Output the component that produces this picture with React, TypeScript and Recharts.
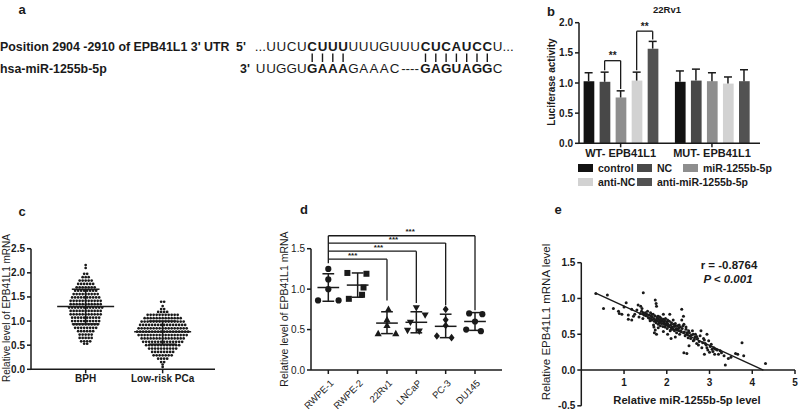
import React from 'react';
import {
  BarChart,
  Bar,
  Cell,
  XAxis,
  YAxis,
  ReferenceLine,
  ReferenceDot,
  ScatterChart,
  Scatter,
} from 'recharts';

const FONT = '"Liberation Sans", Arial, sans-serif';
const INK = '#1a1a1a';

// ---------- panel a: binding site ----------
const utrLabel = "Position 2904 -2910 of EPB41L1 3' UTR";
const mirLabel = 'hsa-miR-1255b-5p';
const utrLetters = 'UUCUCUUUUUUGUUUCUCAUCCU';
const mirLeft = 'UUGGUGAAAGAAAC'; // starts at slot -1
const mirRight = 'GAGUAGGC'; // starts at slot 15
const pairedSlots = [4, 5, 6, 7, 15, 16, 17, 18, 19, 20, 21];

// ---------- panel b: luciferase ----------
const treatments = ['control', 'NC', 'miR-1255b-5p', 'anti-NC', 'anti-miR-1255b-5p'];
const treatmentColors = ['#121212', '#484848', '#8e8e8e', '#d2d2d2', '#525252'];
const reporterGroups = ['WT- EPB41L1', 'MUT- EPB41L1'];
const groupStart = [0, 5.7];
const wtMeans = [1.03, 1.02, 0.76, 1.04, 1.57];
const wtErrors = [0.14, 0.16, 0.11, 0.14, 0.12];
const mutMeans = [1.02, 1.04, 1.03, 0.99, 1.03];
const mutErrors = [0.18, 0.19, 0.14, 0.11, 0.19];
const luciferaseTicks = [0, 0.5, 1, 1.5, 2];
const luciferaseBrackets = [
  { a: 1, b: 2, top: 1.37, footA: 1.21, footB: 0.9, label: '**' },
  { a: 3, b: 4, top: 1.86, footA: 1.21, footB: 1.72, label: '**' },
];

// ---------- panel c: tissue levels ----------
const tissueGroups = ['BPH', 'Low-risk PCa'];
const tissueTicks = [0, 0.5, 1, 1.5, 2, 2.5];
const bphValues = [
  2.16,
  2.1,
  1.98, 1.98,
  1.91, 1.91, 1.91,
  1.84, 1.84, 1.84, 1.84, 1.84,
  1.77, 1.77, 1.77, 1.77, 1.77, 1.77,
  1.7, 1.7, 1.7, 1.7, 1.7, 1.7, 1.7,
  1.63, 1.63, 1.63, 1.63, 1.63, 1.63, 1.63, 1.63,
  1.56, 1.56, 1.56, 1.56, 1.56, 1.56, 1.56, 1.56, 1.56,
  1.49, 1.49, 1.49, 1.49, 1.49, 1.49, 1.49, 1.49, 1.49, 1.49,
  1.42, 1.42, 1.42, 1.42, 1.42, 1.42, 1.42, 1.42, 1.42, 1.42, 1.42,
  1.35, 1.35, 1.35, 1.35, 1.35, 1.35, 1.35, 1.35, 1.35, 1.35, 1.35,
  1.28, 1.28, 1.28, 1.28, 1.28, 1.28, 1.28, 1.28, 1.28, 1.28, 1.28, 1.28,
  1.21, 1.21, 1.21, 1.21, 1.21, 1.21, 1.21, 1.21, 1.21, 1.21, 1.21,
  1.14, 1.14, 1.14, 1.14, 1.14, 1.14, 1.14, 1.14, 1.14, 1.14, 1.14,
  1.07, 1.07, 1.07, 1.07, 1.07, 1.07, 1.07, 1.07, 1.07, 1.07,
  1.0, 1.0, 1.0, 1.0, 1.0, 1.0, 1.0, 1.0, 1.0, 1.0,
  0.93, 0.93, 0.93, 0.93, 0.93, 0.93, 0.93, 0.93, 0.93,
  0.86, 0.86, 0.86, 0.86, 0.86, 0.86, 0.86, 0.86,
  0.79, 0.79, 0.79, 0.79, 0.79, 0.79,
  0.72, 0.72, 0.72, 0.72, 0.72,
  0.65, 0.65, 0.65, 0.65, 0.65,
  0.58, 0.58, 0.58, 0.58,
  0.53, 0.53,
];
const lowRiskValues = [
  1.4, 1.4,
  1.31,
  1.25, 1.25,
  1.19, 1.19, 1.19, 1.19,
  1.13, 1.13, 1.13, 1.13, 1.13, 1.13, 1.13, 1.13, 1.13, 1.13, 1.13,
  1.06, 1.06, 1.06, 1.06, 1.06, 1.06, 1.06, 1.06, 1.06, 1.06, 1.06, 1.06, 1.06,
  0.99, 0.99, 0.99, 0.99, 0.99, 0.99, 0.99, 0.99, 0.99, 0.99, 0.99, 0.99, 0.99, 0.99, 0.99,
  0.92, 0.92, 0.92, 0.92, 0.92, 0.92, 0.92, 0.92, 0.92, 0.92, 0.92, 0.92, 0.92, 0.92, 0.92, 0.92,
  0.85, 0.85, 0.85, 0.85, 0.85, 0.85, 0.85, 0.85, 0.85, 0.85, 0.85, 0.85, 0.85, 0.85, 0.85, 0.85, 0.85,
  0.78, 0.78, 0.78, 0.78, 0.78, 0.78, 0.78, 0.78, 0.78, 0.78, 0.78, 0.78, 0.78, 0.78, 0.78, 0.78, 0.78, 0.78,
  0.71, 0.71, 0.71, 0.71, 0.71, 0.71, 0.71, 0.71, 0.71, 0.71, 0.71, 0.71, 0.71, 0.71, 0.71, 0.71, 0.71,
  0.64, 0.64, 0.64, 0.64, 0.64, 0.64, 0.64, 0.64, 0.64, 0.64, 0.64, 0.64, 0.64, 0.64, 0.64,
  0.57, 0.57, 0.57, 0.57, 0.57, 0.57, 0.57, 0.57, 0.57, 0.57, 0.57, 0.57, 0.57, 0.57,
  0.5, 0.5, 0.5, 0.5, 0.5, 0.5, 0.5, 0.5, 0.5, 0.5, 0.5, 0.5,
  0.43, 0.43, 0.43, 0.43, 0.43, 0.43, 0.43, 0.43, 0.43, 0.43,
  0.36, 0.36, 0.36, 0.36, 0.36, 0.36, 0.36, 0.36,
  0.29, 0.29, 0.29, 0.29, 0.29, 0.29, 0.29,
  0.22, 0.22, 0.22, 0.22,
  0.15, 0.15,
  0.1,
  0.05,
];
const tissueStats = [
  { x: 1, mean: 1.3, lo: 0.94, hi: 1.66 },
  { x: 2, mean: 0.78, lo: 0.52, hi: 1.0 },
];

// ---------- panel d: cell lines ----------
const cellLines = ['RWPE-1', 'RWPE-2', '22Rv1', 'LNCaP', 'PC-3', 'DU145'];
const cellTicks = [0, 0.5, 1, 1.5];
const cellValues = [
  [1.25, 1.12, 1.0, 0.86, 0.86],
  [1.2, 1.19, 1.02, 0.93, 0.88],
  [0.75, 0.62, 0.55, 0.45, 0.45],
  [0.77, 0.68, 0.59, 0.49, 0.48],
  [0.75, 0.62, 0.55, 0.42, 0.4],
  [0.7, 0.69, 0.6, 0.5, 0.48],
];
const cellOffsets = [
  [0, 0, 0, -0.35, 0.35],
  [-0.35, 0.3, 0.2, 0.15, -0.3],
  [0.05, 0, 0, -0.3, 0.3],
  [0, 0.3, -0.2, -0.3, 0.1],
  [0, 0, 0, -0.3, 0.2],
  [-0.2, 0.25, 0, -0.3, 0.2],
];
const cellMeans = [1.02, 1.05, 0.58, 0.59, 0.54, 0.6];
const cellSdLo = [0.85, 0.9, 0.45, 0.46, 0.4, 0.49];
const cellSdHi = [1.19, 1.2, 0.72, 0.72, 0.69, 0.71];
const cellMarkers = ['circle', 'square', 'triangle', 'triangleDown', 'diamond', 'circle'];
const cellBracketTargets = [3, 4, 5, 6];
const cellBracketTops = [1.37, 1.47, 1.57, 1.66];
const cellBracketFeet = [0.86, 0.83, 0.8, 0.74];
const cellStarX = [1.83, 2.71, 3.22, 3.79];

// ---------- panel e: correlation ----------
const corrXTicks = [1, 2, 3, 4, 5];
const corrYTicks = [-0.5, 0, 0.5, 1, 1.5];
const corrFit = [
  { x: 0.35, y: 1.07 },
  { x: 4.26, y: 0 },
];
const corrPoints = [
  [0.34, 1.07], [0.61, 1.05], [0.52, 0.86], [0.75, 0.86], [0.87, 0.82], [0.89, 0.79],
  [1.05, 0.94], [1.1, 0.71], [1.18, 0.7], [1.22, 0.75], [1.18, 0.85], [1.33, 0.91],
  [1.39, 0.89], [1.45, 1.08], [1.41, 0.82], [1.45, 0.8], [1.53, 0.78], [1.57, 0.73],
  [1.61, 0.69], [1.69, 0.63], [1.73, 0.98], [1.75, 0.93], [1.76, 0.89], [1.73, 0.56],
  [1.71, 0.52], [1.65, 0.78], [1.8, 0.75], [1.84, 0.7], [1.88, 0.69], [1.82, 0.66],
  [1.92, 0.78], [1.96, 0.64], [2.0, 0.67], [2.04, 0.62], [2.02, 0.5], [2.07, 0.78],
  [2.1, 0.57], [2.16, 0.64], [2.2, 0.62], [2.24, 0.57], [2.28, 0.59], [2.32, 0.55],
  [2.35, 0.85], [2.39, 0.75], [2.4, 0.64], [2.45, 0.57], [2.47, 0.52], [2.51, 0.55],
  [2.55, 0.48], [2.62, 0.5], [2.66, 0.46], [2.7, 0.47], [2.62, 0.41], [2.47, 0.23],
  [2.7, 0.37], [2.74, 0.35], [2.8, 0.55], [2.82, 0.31], [2.86, 0.44], [2.9, 0.37],
  [2.94, 0.5], [2.98, 0.41], [2.94, 0.31], [2.88, 0.22], [3.02, 0.33], [3.06, 0.29],
  [3.1, 0.31], [3.14, 0.29], [3.21, 0.22], [3.25, 0.27], [3.34, 0.2], [3.44, 0.16],
  [3.37, 0.07], [3.61, 0.23], [3.76, 0.38], [3.8, 0.2], [4.31, 0.09],
  [1.5, 0.8], [1.52, 0.76], [1.55, 0.82], [1.58, 0.77], [1.6, 0.72], [1.62, 0.8],
  [1.63, 0.75], [1.65, 0.7], [1.66, 0.74], [1.68, 0.78], [1.7, 0.72], [1.71, 0.68],
  [1.72, 0.76], [1.74, 0.7], [1.75, 0.66], [1.77, 0.73], [1.78, 0.69], [1.79, 0.75],
  [1.8, 0.64], [1.81, 0.71], [1.83, 0.67], [1.84, 0.74], [1.85, 0.62], [1.86, 0.69],
  [1.87, 0.72], [1.88, 0.65], [1.9, 0.68], [1.91, 0.61], [1.92, 0.71], [1.93, 0.66],
  [1.95, 0.69], [1.96, 0.6], [1.97, 0.72], [1.98, 0.63], [2.0, 0.66], [2.01, 0.58],
  [2.02, 0.7], [2.03, 0.64], [2.05, 0.61], [2.06, 0.68], [2.08, 0.55], [2.09, 0.63],
  [2.11, 0.66], [2.12, 0.6], [2.14, 0.57], [2.15, 0.7], [2.17, 0.61], [2.18, 0.55],
  [2.2, 0.65], [2.22, 0.58], [2.23, 0.52], [2.25, 0.62], [2.27, 0.56], [2.29, 0.63],
  [2.3, 0.5], [2.32, 0.6], [2.34, 0.54], [2.36, 0.58], [2.38, 0.62], [2.41, 0.53],
  [2.43, 0.48], [2.45, 0.6], [2.48, 0.5], [2.5, 0.45], [2.53, 0.52], [2.56, 0.44],
  [2.58, 0.49], [2.6, 0.55], [2.64, 0.42], [2.67, 0.5], [2.72, 0.44], [2.76, 0.4],
  [2.78, 0.48], [2.84, 0.38], [2.88, 0.42], [2.92, 0.35], [2.96, 0.28], [3.0, 0.25],
  [3.04, 0.36], [3.08, 0.26], [3.12, 0.22], [3.18, 0.28], [3.28, 0.24], [3.5, 0.18],
  [3.66, 0.22], [1.25, 0.78], [1.3, 0.84], [1.35, 0.74], [1.38, 0.79], [1.42, 0.86],
  [1.44, 0.72], [1.47, 0.77], [1.0, 0.88], [0.95, 0.78], [1.1, 0.77], [2.4, 0.24],
  [2.1, 0.44], [1.76, 0.5], [1.8, 0.59], [1.7, 0.6], [2.2, 0.46], [2.52, 0.34],
  [2.35, 0.7], [1.92, 0.54],
];

// ---------- helpers ----------
const boldTick = (size: number) => ({ fontFamily: FONT, fontSize: size, fontWeight: 700, fill: INK });
const plainTick = (size: number) => ({ fontFamily: FONT, fontSize: size, fill: INK });
const axisStroke = { stroke: INK, strokeWidth: 1.5 };

// lay values of one column out as a bee swarm: equal values share a row
const swarm = (values: number[], center: number, step: number) => {
  const counts = new Map<number, number>();
  values.forEach((v) => counts.set(v, (counts.get(v) ?? 0) + 1));
  const seen = new Map<number, number>();
  return values.map((v) => {
    const n = counts.get(v) as number;
    const k = seen.get(v) ?? 0;
    seen.set(v, k + 1);
    return { x: center + (k - (n - 1) / 2) * step, y: v };
  });
};

const seg = (x1: number, y1: number, x2: number, y2: number, key: string, width = 1.3) => (
  <ReferenceLine
    key={key}
    segment={[
      { x: x1, y: y1 },
      { x: x2, y: y2 },
    ]}
    stroke={INK}
    strokeWidth={width}
    ifOverflow="visible"
  />
);

const textDot = (
  x: number,
  y: number,
  text: string,
  key: string,
  opts: { size?: number; dx?: number; dy?: number; anchor?: string; weight?: number } = {}
) => (
  <ReferenceDot
    key={key}
    x={x}
    y={y}
    r={0}
    ifOverflow="visible"
    shape={(p: any) => (
      <text
        x={p.cx + (opts.dx ?? 0)}
        y={p.cy + (opts.dy ?? -1.5)}
        textAnchor={opts.anchor ?? 'middle'}
        fontFamily={FONT}
        fontSize={opts.size ?? 9}
        fontWeight={opts.weight ?? 700}
        fill={INK}
      >
        {text}
      </text>
    )}
  />
);

const smallDot = (r: number) => (p: any) => <circle cx={p.cx} cy={p.cy} r={r} fill={INK} />;

const markerShape = (kind: string) => (p: any) => {
  const { cx, cy } = p;
  if (kind === 'square') return <rect x={cx - 3} y={cy - 3} width={6} height={6} fill={INK} />;
  if (kind === 'triangle')
    return <polygon points={`${cx},${cy - 3.8} ${cx - 3.6},${cy + 2.6} ${cx + 3.6},${cy + 2.6}`} fill={INK} />;
  if (kind === 'triangleDown')
    return <polygon points={`${cx},${cy + 3.8} ${cx - 3.6},${cy - 2.6} ${cx + 3.6},${cy - 2.6}`} fill={INK} />;
  if (kind === 'diamond')
    return <polygon points={`${cx},${cy - 3.8} ${cx + 3},${cy} ${cx},${cy + 3.8} ${cx - 3},${cy}`} fill={INK} />;
  return <circle cx={cx} cy={cy} r={3.1} fill={INK} />;
};

const RotatedTick = (props: any) => {
  const { x, y, payload } = props;
  return (
    <g transform={`translate(${x + 3},${y + 5})`}>
      <text transform="rotate(-45)" textAnchor="end" dy={4} fontFamily={FONT} fontSize={9.5} fill={INK}>
        {cellLines[payload.value - 1]}
      </text>
    </g>
  );
};

// ---------- panels ----------
const barRows = [wtMeans, mutMeans].flatMap((means, g) =>
  means.map((v, i) => ({
    x: groupStart[g] + i,
    v,
    e: (g === 0 ? wtErrors : mutErrors)[i],
    color: treatmentColors[i],
  }))
);

const LuciferasePanel = () => (
  <BarChart width={270} height={200} data={barRows} margin={{ top: 22.7, right: 40, bottom: 36.7, left: 0 }}>
    <XAxis
      type="number"
      dataKey="x"
      domain={[-0.6, 10.7]}
      allowDataOverflow
      ticks={groupStart.map((s) => s + 2)}
      interval={0}
      tickFormatter={(v: number) => reporterGroups[groupStart.findIndex((s) => Math.abs(s + 2 - v) < 0.01)]}
      tick={boldTick(11)}
      tickSize={4}
      axisLine={axisStroke}
      tickLine={axisStroke}
      height={20}
    />
    <YAxis
      type="number"
      domain={[0, 2]}
      ticks={luciferaseTicks}
      interval={0}
      tickFormatter={(v: number) => v.toFixed(1)}
      tick={boldTick(10)}
      tickSize={4}
      axisLine={axisStroke}
      tickLine={axisStroke}
      width={49}
    />
    <Bar dataKey="v" barSize={10.7} isAnimationActive={false}>
      {barRows.map((r, i) => (
        <Cell key={i} fill={r.color} />
      ))}
    </Bar>
    {barRows.map((r, i) => seg(r.x, r.v, r.x, r.v + r.e, `w${i}`, 1.5))}
    {barRows.map((r, i) => seg(r.x - 0.25, r.v + r.e, r.x + 0.25, r.v + r.e, `c${i}`, 1.5))}
    {luciferaseBrackets.flatMap((br, i) => [
      seg(br.a, br.footA, br.a, br.top, `ba${i}`),
      seg(br.a, br.top, br.b, br.top, `bt${i}`),
      seg(br.b, br.top, br.b, br.footB, `bb${i}`),
      textDot((br.a + br.b) / 2, br.top, br.label, `bs${i}`, { size: 10 }),
    ])}
  </BarChart>
);

const tissuePoints = [...swarm(bphValues, 1, 0.039), ...swarm(lowRiskValues, 2, 0.039)];

const TissuePanel = () => (
  <ScatterChart width={230} height={229} margin={{ top: 58.7, right: 15, bottom: 29.7, left: 0 }}>
    <XAxis
      type="number"
      dataKey="x"
      domain={[0.29, 2.68]}
      allowDataOverflow
      ticks={[1, 2]}
      interval={0}
      tickFormatter={(v: number) => tissueGroups[v - 1]}
      tick={boldTick(10)}
      tickSize={4}
      axisLine={axisStroke}
      tickLine={axisStroke}
      height={20}
    />
    <YAxis
      type="number"
      dataKey="y"
      domain={[0, 2.5]}
      allowDataOverflow
      ticks={tissueTicks}
      interval={0}
      tickFormatter={(v: number) => v.toFixed(1)}
      tick={boldTick(10)}
      tickSize={4}
      axisLine={axisStroke}
      tickLine={axisStroke}
      width={31}
    />
    <Scatter data={tissuePoints} shape={smallDot(1.35)} isAnimationActive={false} />
    {tissueStats.flatMap((s, i) => [
      seg(s.x - 0.37, s.mean, s.x + 0.37, s.mean, `m${i}`, 1.5),
      seg(s.x - 0.18, s.lo, s.x + 0.18, s.lo, `l${i}`, 1.5),
      seg(s.x - 0.18, s.hi, s.x + 0.18, s.hi, `h${i}`, 1.5),
      seg(s.x, s.lo, s.x, s.hi, `v${i}`, 1.5),
    ])}
  </ScatterChart>
);

const CellLinePanel = () => (
  <ScatterChart width={240} height={229} margin={{ top: 58.7, right: 8, bottom: 4, left: 0 }}>
    <XAxis
      type="number"
      dataKey="x"
      domain={[0.41, 6.92]}
      allowDataOverflow
      ticks={[1, 2, 3, 4, 5, 6]}
      interval={0}
      tick={<RotatedTick />}
      tickSize={4}
      axisLine={axisStroke}
      tickLine={axisStroke}
      height={45}
    />
    <YAxis
      type="number"
      dataKey="y"
      domain={[0, 1.5]}
      allowDataOverflow
      ticks={cellTicks}
      interval={0}
      tickFormatter={(v: number) => v.toFixed(1)}
      tick={plainTick(10)}
      tickSize={4}
      axisLine={axisStroke}
      tickLine={axisStroke}
      width={41}
    />
    {cellValues.map((vals, g) => (
      <Scatter
        key={cellLines[g]}
        data={vals.map((v, i) => ({ x: g + 1 + cellOffsets[g][i], y: v }))}
        shape={markerShape(cellMarkers[g])}
        isAnimationActive={false}
      />
    ))}
    {cellMeans.flatMap((m, g) => [
      seg(g + 1 - 0.37, m, g + 1 + 0.37, m, `dm${g}`, 1.5),
      seg(g + 1 - 0.2, cellSdLo[g], g + 1 + 0.2, cellSdLo[g], `dl${g}`, 1.5),
      seg(g + 1 - 0.2, cellSdHi[g], g + 1 + 0.2, cellSdHi[g], `dh${g}`, 1.5),
      seg(g + 1, cellSdLo[g], g + 1, cellSdHi[g], `dv${g}`, 1.5),
    ])}
    {seg(1, 1.32, 1, cellBracketTops[cellBracketTops.length - 1], 'dstem')}
    {cellBracketTargets.flatMap((t, i) => [
      seg(1, cellBracketTops[i], t, cellBracketTops[i], `dt${i}`),
      seg(t, cellBracketTops[i], t, cellBracketFeet[i], `df${i}`),
      textDot(cellStarX[i], cellBracketTops[i], '***', `ds${i}`, { size: 8 }),
    ])}
  </ScatterChart>
);

const CorrelationPanel = () => (
  <ScatterChart width={260} height={229} margin={{ top: 72.7, right: 5, bottom: 13.2, left: 0 }}>
    <XAxis type="number" dataKey="x" domain={[0, 5]} allowDataOverflow hide />
    <YAxis
      type="number"
      dataKey="y"
      domain={[-0.5, 1.5]}
      allowDataOverflow
      ticks={corrYTicks}
      interval={0}
      tickFormatter={(v: number) => v.toFixed(1)}
      tick={boldTick(10)}
      tickSize={4}
      axisLine={axisStroke}
      tickLine={axisStroke}
      width={41.3}
    />
    <ReferenceLine y={0} stroke={INK} strokeWidth={1.5} />
    {corrXTicks.map((t) => seg(t, 0, t, -0.055, `xt${t}`, 1.5))}
    {corrXTicks.map((t) => textDot(t, 0, String(t), `xl${t}`, { size: 10, dy: 16 }))}
    <Scatter data={corrPoints.map(([x, y]) => ({ x, y }))} shape={smallDot(1.5)} isAnimationActive={false} />
    {seg(corrFit[0].x, corrFit[0].y, corrFit[1].x, corrFit[1].y, 'fit', 1.4)}
  </ScatterChart>
);

// ---------- static text ----------
const slotX = (i: number) => 271 + i * 10.3;
const inRange = (i: number) => (i >= 4 && i <= 7) || (i >= 15 && i <= 21);

const Letter = ({ ch, x, y, bold }: { ch: string; x: number; y: number; bold: boolean }) => (
  <text x={x} y={y} textAnchor="middle" fontFamily={FONT} fontSize={13.4} fontWeight={bold ? 700 : 400} fill={INK}>
    {ch}
  </text>
);

const vText = (x: number, y: number, text: string, size: number, weight = 400) => (
  <text
    transform={`translate(${x},${y}) rotate(-90)`}
    textAnchor="middle"
    dominantBaseline="central"
    fontFamily={FONT}
    fontSize={size}
    fontWeight={weight}
    fill={INK}
  >
    {text}
  </text>
);

const legendCols = [578, 637, 683];
const legendRows = [168, 182];

const Overlay = () => {
  const y1 = 50.5;
  const y2 = 72.5;
  return (
    <svg width={800} height={419} style={{ position: 'absolute', left: 0, top: 0, pointerEvents: 'none' }}>
      {[
        ['a', 22, 14],
        ['b', 551, 16],
        ['c', 22, 216],
        ['d', 304, 214],
        ['e', 558, 214],
      ].map(([t, x, y]) => (
        <text key={t as string} x={x as number} y={y as number} textAnchor="middle" fontFamily={FONT} fontSize={13} fontWeight={700} fill={INK}>
          {t}
        </text>
      ))}

      {/* panel a */}
      <text x={0} y={y1} fontFamily={FONT} fontSize={12.4} fontWeight={700} fill={INK}>
        {utrLabel}
      </text>
      <text x={236} y={y1} fontFamily={FONT} fontSize={12.4} fontWeight={700} fill={INK}>
        5'
      </text>
      <text x={slotX(0) - 5} y={y1} textAnchor="end" fontFamily={FONT} fontSize={13.4} fill={INK}>
        ...
      </text>
      {utrLetters.split('').map((ch, i) => (
        <Letter key={`u${i}`} ch={ch} x={slotX(i)} y={y1} bold={inRange(i)} />
      ))}
      <text x={slotX(utrLetters.length - 1) + 5} y={y1} fontFamily={FONT} fontSize={13.4} fill={INK}>
        ...
      </text>
      {pairedSlots.map((i) => (
        <line key={`p${i}`} x1={slotX(i)} x2={slotX(i)} y1={y1 + 3} y2={y1 + 11.5} stroke={INK} strokeWidth={1.4} />
      ))}
      <text x={0} y={y2} fontFamily={FONT} fontSize={12.4} fontWeight={700} fill={INK}>
        {mirLabel}
      </text>
      <text x={240} y={y2} fontFamily={FONT} fontSize={12.4} fontWeight={700} fill={INK}>
        3'
      </text>
      {mirLeft.split('').map((ch, i) => (
        <Letter key={`m${i}`} ch={ch} x={slotX(i - 1)} y={y2} bold={i - 1 >= 4 && i - 1 <= 7} />
      ))}
      <text x={slotX(13.5)} y={y2} textAnchor="middle" fontFamily={FONT} fontSize={13.4} fill={INK}>
        ----
      </text>
      {mirRight.split('').map((ch, i) => (
        <Letter key={`r${i}`} ch={ch} x={slotX(15 + i)} y={y2} bold={15 + i <= 21} />
      ))}

      {/* panel b */}
      <text x={667} y={13} textAnchor="middle" fontFamily={FONT} fontSize={9.5} fontWeight={700} fill={INK}>
        22Rv1
      </text>
      {vText(551, 82, 'Luciferase activity', 10, 700)}
      {treatments.map((t, i) => {
        const row = i < 3 ? 0 : 1;
        const col = i < 3 ? i : i - 3;
        const x = legendCols[col];
        const y = legendRows[row];
        return (
          <g key={t}>
            <rect x={x} y={y - 4} width={15} height={8} fill={treatmentColors[i]} />
            <text x={x + 20} y={y} dominantBaseline="central" fontFamily={FONT} fontSize={10.5} fontWeight={700} fill={INK}>
              {t}
            </text>
          </g>
        );
      })}

      {/* axis titles */}
      {vText(6, 308, 'Relative level of EPB41L1 mRNA', 10)}
      {vText(283.5, 309, 'Relative level of EPB41L1 mRNA', 10.5)}
      {vText(546, 322, 'Relative EPB41L1 mRNA level', 11.5)}
      <text x={687} y={404} textAnchor="middle" fontFamily={FONT} fontSize={11.2} fontWeight={700} fill={INK}>
        Relative miR-1255b-5p level
      </text>
      <text x={729} y={269} textAnchor="middle" fontFamily={FONT} fontSize={11.5} fontWeight={700} fill={INK}>
        r = -0.8764
      </text>
      <text x={728} y={283} textAnchor="middle" fontFamily={FONT} fontSize={11.5} fontWeight={700} fontStyle="italic" fill={INK}>
        P &lt; 0.001
      </text>
    </svg>
  );
};

const at = (left: number, top: number, z = 1): React.CSSProperties => ({ position: 'absolute', left, top, zIndex: z });

export default function App() {
  return (
    <div style={{ position: 'absolute', left: 0, top: 0, width: 800, height: 419, background: '#fff', overflow: 'hidden', fontFamily: FONT }}>
      <Overlay />
      <div style={at(530, 0)}>
        <LuciferasePanel />
      </div>
      <div style={at(270, 190)}>
        <CellLinePanel />
      </div>
      <div style={at(540, 190)}>
        <CorrelationPanel />
      </div>
      <div style={at(0, 190, 5)}>
        <TissuePanel />
      </div>
    </div>
  );
}
